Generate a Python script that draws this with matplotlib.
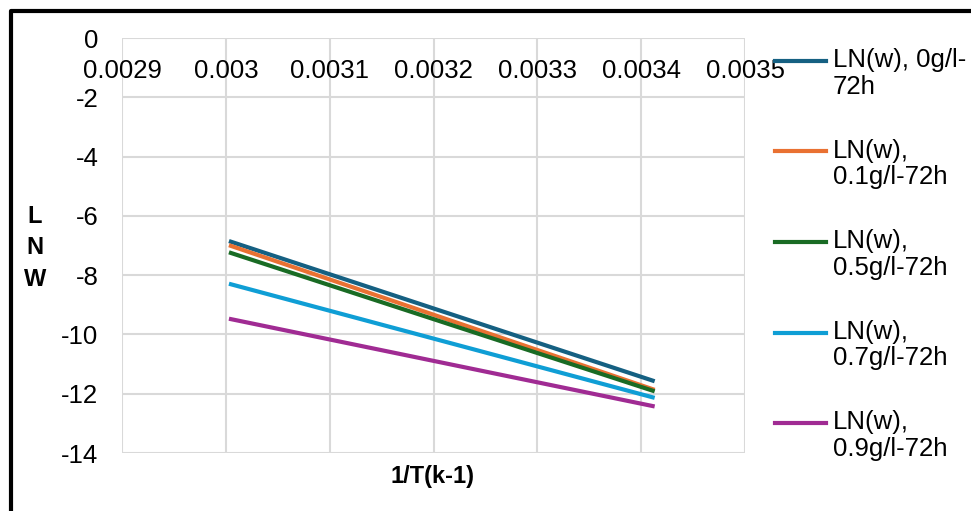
import matplotlib.pyplot as plt
from matplotlib.lines import Line2D

plt.rcParams["font.family"] = ["Liberation Sans", "DejaVu Sans"]

# ------------------------------------------------------------
# Data: ln(w) against 1/T for each inhibitor concentration
# ------------------------------------------------------------

inv_T = [0.003003, 0.003413]

ln_w_0 = [-6.85, -11.58]
ln_w_01 = [-6.99, -11.87]
ln_w_05 = [-7.23, -11.92]
ln_w_07 = [-8.29, -12.14]
ln_w_09 = [-9.47, -12.43]

labels = ["LN(w), 0g/l-\n72h",
          "LN(w),\n0.1g/l-72h",
          "LN(w),\n0.5g/l-72h",
          "LN(w),\n0.7g/l-72h",
          "LN(w),\n0.9g/l-72h"]

x_ticks = [0.0029, 0.003, 0.0031, 0.0032, 0.0033, 0.0034, 0.0035]
x_tick_labels = ["0.0029", "0.003", "0.0031", "0.0032", "0.0033", "0.0034", "0.0035"]
y_ticks = [0, -2, -4, -6, -8, -10, -12, -14]

colors = ["#156082", "#E97132", "#196B24", "#0F9ED5", "#A02B93"]

W, H = 971, 511
FS = 18.5

# ------------------------------------------------------------
# Figure
# ------------------------------------------------------------

fig = plt.figure(figsize=(W / 100, H / 100), dpi=100)
ax = fig.add_axes([122 / W, 1 - 453 / H, (745 - 122) / W, (453 - 38) / H])

series = [ln_w_0, ln_w_01, ln_w_05, ln_w_07, ln_w_09]
for ys, c in zip(series, colors):
    ax.plot(inv_T, ys, color=c, lw=3, solid_capstyle="butt", zorder=3)

ax.set_xlim(0.0029, 0.0035)
ax.set_ylim(-14, 0)

ax.set_xticks(x_ticks)
ax.set_xticklabels(x_tick_labels)
ax.set_yticks(y_ticks)
ax.set_yticklabels([str(v) for v in y_ticks])

ax.grid(True, color="#D9D9D9", lw=1.5)
ax.set_axisbelow(True)

for s in ax.spines.values():
    s.set_visible(False)
# category labels sit under the y = 0 line
ax.spines["bottom"].set_position(("data", 0))

ax.tick_params(axis="x", length=0, pad=15, labelsize=FS)
ax.tick_params(axis="y", length=0, pad=17, labelsize=FS)

fig.text(432 / W, 1 - 476 / H, "1/T(k-1)", fontsize=17, fontweight="bold",
         ha="center", va="center")
fig.text(35 / W, 1 - 248 / H, "L\nN\nW", fontsize=17, fontweight="bold",
         ha="center", va="center", linespacing=1.45)

# ------------------------------------------------------------
# Legend (marker aligned with the first text line)
# ------------------------------------------------------------

for i, (lab, c) in enumerate(zip(labels, colors)):
    y = 61 + i * 90.5
    fig.add_artist(Line2D([775 / W, 826 / W], [1 - y / H, 1 - y / H],
                          transform=fig.transFigure, color=c, lw=3))
    fig.text(833 / W, 1 - (y - 13) / H, lab, fontsize=FS, ha="left", va="top",
             linespacing=1.15)

# frame along the left and top edge
fig.add_artist(Line2D([11.3 / W, 11.3 / W, 1], [0, 1 - 11.3 / H, 1 - 11.3 / H],
                      transform=fig.transFigure, color="black", lw=3))

fig.savefig("out.png", dpi=100)
